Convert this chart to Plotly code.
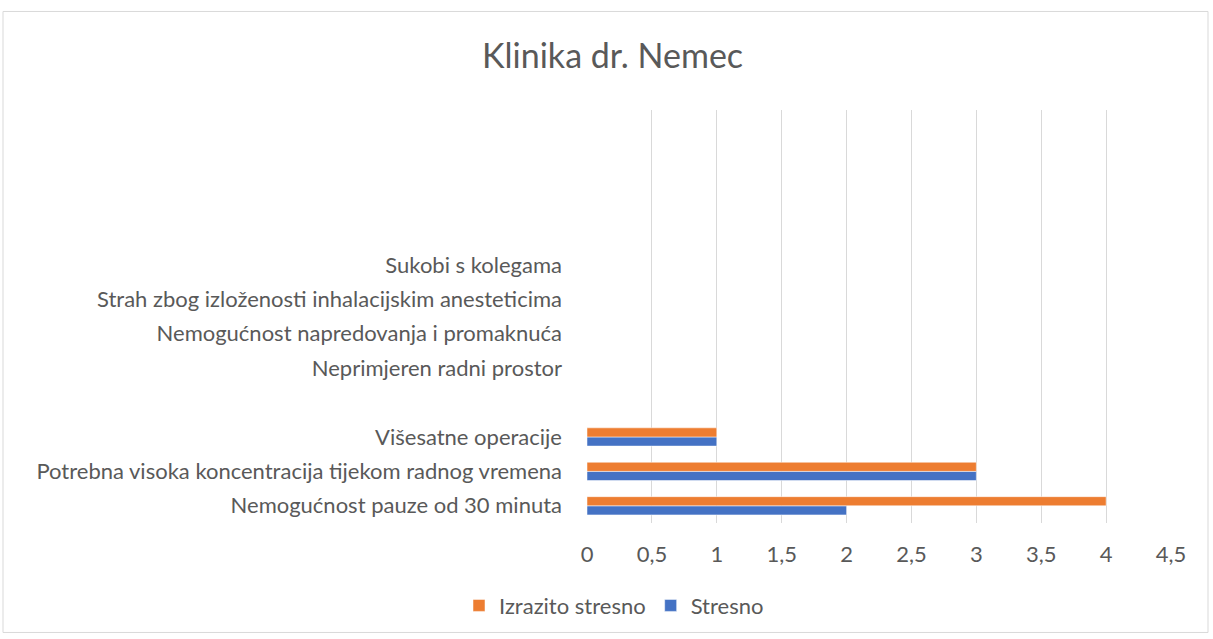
import plotly.graph_objects as go

# categories bottom -> top (blank slots kept as unique whitespace labels)
categories = [
    'Nemogućnost pauze od 30 minuta',
    'Potrebna visoka koncentracija tijekom radnog vremena',
    'Višesatne operacije',
    ' ',
    'Neprimjeren radni prostor',
    'Nemogućnost napredovanja i promaknuća',
    'Strah zbog izloženosti inhalacijskim anesteticima',
    'Sukobi s kolegama',
    '  ',
    '   ',
    '    ',
    '     ',
]
stresno = [2, 3, 1, None, None, None, None, None, None, None, None, None]
izrazito_stresno = [4, 3, 1, None, None, None, None, None, None, None, None, None]
x_ticks = [0, 0.5, 1, 1.5, 2, 2.5, 3, 3.5, 4, 4.5]
x_tick_text = ['0', '0,5', '1', '1,5', '2', '2,5', '3', '3,5', '4', '4,5']

FONT = 'Lato, Open Sans, sans-serif'
GREY = '#595959'

fig = go.Figure()
fig.add_trace(go.Bar(
    y=categories, x=stresno, name='Stresno', orientation='h',
    marker={'color': '#4472C4', 'line': {'color': 'white', 'width': 0.5}},
))
fig.add_trace(go.Bar(
    y=categories, x=izrazito_stresno, name='Izrazito stresno', orientation='h',
    marker={'color': '#ED7D31', 'line': {'color': 'white', 'width': 0.5}},
))

W, H = 1213, 639
L, R, T, B = 587, 42, 110, 114
pw, ph = W - L - R, H - T - B


def px_x(p):
    return (p - L) / pw


def px_y(p):
    return (H - B - p) / ph


fig.update_layout(
    width=W, height=H,
    margin={'l': L, 'r': R, 't': T, 'b': B},
    paper_bgcolor='white', plot_bgcolor='white',
    font={'family': FONT, 'color': GREY, 'size': 22},
    title={'text': 'Klinika dr. Nemec', 'x': 0.505, 'xanchor': 'center',
           'y': 1 - 56 / H, 'yanchor': 'middle',
           'font': {'size': 34, 'color': GREY}},
    barmode='group', bargap=0.47, bargroupgap=0,
    showlegend=True,
    legend={'orientation': 'h', 'x': px_x(614), 'xanchor': 'center',
            'y': px_y(608), 'yanchor': 'middle', 'yref': 'paper',
            'traceorder': 'reversed', 'font': {'size': 22, 'color': GREY},
            'itemwidth': 30},
    xaxis={'range': [0, 4.5], 'tickvals': x_ticks, 'ticktext': x_tick_text,
           'showgrid': True, 'gridcolor': '#D9D9D9', 'gridwidth': 1,
           'zeroline': False, 'showline': False, 'ticks': '',
           'ticklabelstandoff': 16, 'fixedrange': True},
    yaxis={'type': 'category', 'categoryorder': 'array', 'categoryarray': categories,
           'showgrid': False, 'zeroline': False, 'showline': False,
           'ticks': '', 'ticklabelstandoff': 24, 'fixedrange': True},
    shapes=[{'type': 'rect', 'xref': 'paper', 'yref': 'paper',
             'x0': px_x(3), 'x1': px_x(1208), 'y0': px_y(635), 'y1': px_y(11),
             'line': {'color': '#D9D9D9', 'width': 1}, 'layer': 'below'}],
)

fig.write_html(
    'out.html',
    config={'displayModeBar': False},
    post_script="document.body.style.margin='0';document.body.style.overflow='hidden';",
)
